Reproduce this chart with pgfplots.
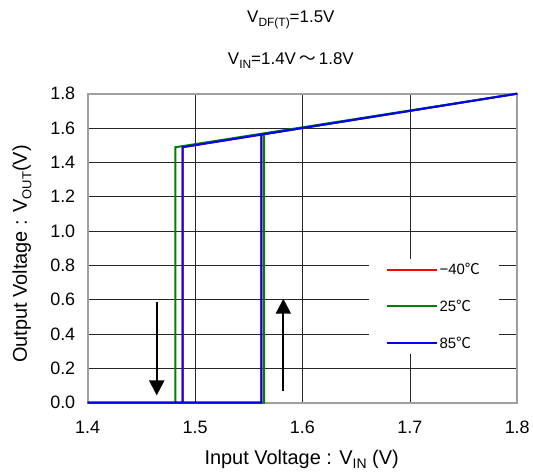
\documentclass[border=0pt]{standalone}
\usepackage{fontspec}
\setmainfont{Liberation Sans}
\newfontfamily\cjk{Noto Sans CJK JP}
\usepackage{pgfplots}
\pgfplotsset{compat=1.18}
\usetikzlibrary{arrows.meta}
\definecolor{cgreen}{RGB}{0,128,0}
\newcommand{\sub}[2]{\raisebox{-0.22em}{\fontsize{#1}{#1}\selectfont #2}}
\begin{document}
\begin{tikzpicture}[font=\fontsize{18bp}{21bp}\selectfont]
\begin{axis}[
  name=ax,
  scale only axis, width=431bp, height=310bp,
  xmin=1.4, xmax=1.8, ymin=0, ymax=1.8,
  xtick={1.4,1.5,1.6,1.7,1.8},
  ytick={0,0.2,0.4,0.6,0.8,1.0,1.2,1.4,1.6,1.8},
  /pgf/number format/assume math mode=true,
  /pgf/number format/.cd, fixed, fixed zerofill, precision=1, /pgfplots/.cd,
  tick label style={font=\fontsize{18bp}{21bp}\selectfont},
  grid=major,
  major grid style={black!85, line width=0.6bp},
  axis line style={gray!75, line width=1.8bp},
  major tick length=0pt,
  yticklabel style={xshift=-9bp},
  xticklabel style={yshift=-15bp},
  clip=false,
  xlabel={Input Voltage : V\sub{14bp}{IN} (V)},
  ylabel={Output Voltage : V\sub{13bp}{OUT}(V)},
  label style={font=\fontsize{20bp}{24bp}\selectfont},
  xlabel style={at={(axis description cs:0.498,-0.184)}, anchor=center},
  ylabel style={at={(axis description cs:-0.153,0.481)}, anchor=center},
  legend style={at={(rel axis cs:0.654,0.465)}, anchor=north west, draw=none, fill=white,
    row sep=20bp, font=\fontsize{15bp}{18bp}\selectfont, inner ysep=2bp, inner xsep=17bp},
  legend cell align=left,
  legend image code/.code={\draw[#1] (0bp,0bp) -- (50bp,0bp);},
]
\addplot[red, line width=2bp] coordinates {(1.4,0) (1.5618,0) (1.5618,1.5618) (1.8,1.8) (1.4885,1.4885) (1.4885,0) (1.4,0)};
\addlegendentry{−40{\cjk ℃}\hspace{10bp}}
\addplot[cgreen, line width=2bp] coordinates {(1.4,0) (1.5643,0) (1.5643,1.5643) (1.8,1.8) (1.4817,1.4880) (1.4817,0) (1.4,0)};
\addlegendentry{25{\cjk ℃}}
\addplot[blue, line width=2bp] coordinates {(1.4,0) (1.5618,0) (1.5618,1.5618) (1.8,1.8) (1.4885,1.4885) (1.4885,0) (1.4,0)};
\addlegendentry{85{\cjk ℃}}
\draw[black, line width=2.2bp, -{Triangle[width=15bp,length=15bp]}] (axis cs:1.4643,0.587) -- (axis cs:1.4643,0.042);
\draw[black, line width=2.2bp, -{Triangle[width=15bp,length=15bp]}] (axis cs:1.5822,0.066) -- (axis cs:1.5822,0.605);
\node[font=\fontsize{17bp}{20bp}\selectfont] at ([yshift=74bp]rel axis cs:0.473,1) {V\sub{12bp}{DF(T)}=1.5V};
\node[font=\fontsize{17bp}{20bp}\selectfont] at ([yshift=33bp]rel axis cs:0.473,1) {V\sub{12bp}{IN}=1.4V\hspace{3bp}{\cjk ～}\hspace{3bp}1.8V};
\end{axis}
\path (ax.south west) ++(-88bp,-72bp) rectangle ++(533bp,476bp);
\end{tikzpicture}
\end{document}
